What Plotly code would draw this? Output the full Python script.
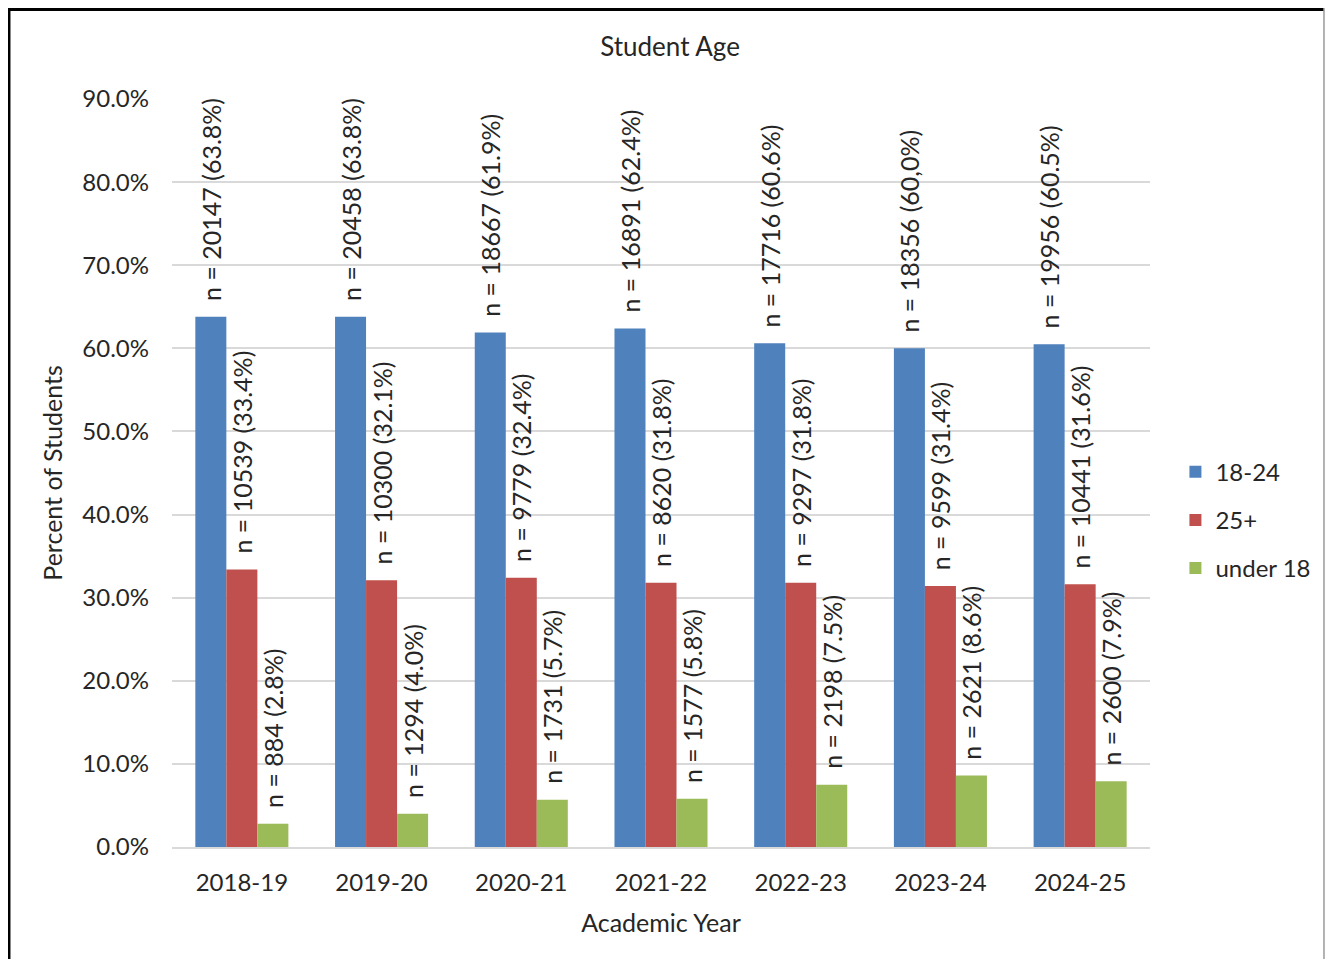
import plotly.graph_objects as go

years = ["2018-19", "2019-20", "2020-21", "2021-22", "2022-23", "2023-24", "2024-25"]
series_names = ["18-24", "25+", "under 18"]

pct_18_24 = [63.8, 63.8, 61.9, 62.4, 60.6, 60.0, 60.5]
pct_25_plus = [33.4, 32.1, 32.4, 31.8, 31.8, 31.4, 31.6]
pct_under_18 = [2.8, 4.0, 5.7, 5.8, 7.5, 8.6, 7.9]

n_18_24 = [20147, 20458, 18667, 16891, 17716, 18356, 19956]
n_25_plus = [10539, 10300, 9779, 8620, 9297, 9599, 10441]
n_under_18 = [884, 1294, 1731, 1577, 2198, 2621, 2600]

pct_text_18_24 = ["63.8%", "63.8%", "61.9%", "62.4%", "60.6%", "60,0%", "60.5%"]
pct_text_25_plus = ["33.4%", "32.1%", "32.4%", "31.8%", "31.8%", "31.4%", "31.6%"]
pct_text_under_18 = ["2.8%", "4.0%", "5.7%", "5.8%", "7.5%", "8.6%", "7.9%"]

colors = ["#4F81BD", "#C0504D", "#9BBB59"]

FONT = "Lato"
TXT = "#262626"

fig = go.Figure()
for name, vals, ns, pts, col in zip(
    series_names,
    [pct_18_24, pct_25_plus, pct_under_18],
    [n_18_24, n_25_plus, n_under_18],
    [pct_text_18_24, pct_text_25_plus, pct_text_under_18],
    colors,
):
    fig.add_trace(go.Bar(
        x=years, y=vals, name=name, legendgroup=name,
        marker=dict(color=col, line=dict(width=0)),
        text=[f"\u00a0\u00a0n = {n} ({p})" for n, p in zip(ns, pts)],
        textposition="outside", textangle=-90,
        constraintext="none", cliponaxis=False,
        textfont=dict(family=FONT, size=25, color=TXT),
        hoverinfo="x+y+name",
    ))

fig.update_layout(
    width=1317, height=951,
    margin=dict(l=164, r=175, t=91, b=112, autoexpand=False),
    paper_bgcolor="white", plot_bgcolor="white",
    barmode="group", bargap=0.334, bargroupgap=0,
    font=dict(family=FONT, size=24, color=TXT),
    title=dict(text="Student Age", x=0.5027, xanchor="center", y=0.959, yanchor="middle",
               font=dict(family=FONT, size=26, color=TXT)),
    legend=dict(x=1.026, xanchor="left", y=0.437, yanchor="middle",
                font=dict(family=FONT, size=24, color=TXT),
                traceorder="grouped", tracegroupgap=14,
                bgcolor="rgba(0,0,0,0)"),
    showlegend=True,
)
fig.update_yaxes(
    range=[0, 90], dtick=10, tickformat=".1f", ticksuffix="%",
    showgrid=True, gridcolor="#D9D9D9", gridwidth=2,
    zeroline=False, showline=False, ticks="", ticklabelstandoff=22,
    tickfont=dict(family=FONT, size=24, color=TXT),
    title=dict(text="Percent of Students", standoff=12,
               font=dict(family=FONT, size=25, color=TXT)),
)
fig.update_xaxes(
    showline=True, linecolor="#D9D9D9", linewidth=2,
    ticks="", showgrid=False, ticklabelstandoff=13,
    tickfont=dict(family=FONT, size=24, color=TXT),
    title=dict(text="Academic Year", standoff=20,
               font=dict(family=FONT, size=25, color=TXT)),
)
# frame around the chart: black left/top, thin grey right
fig.add_shape(type="line", xref="paper", yref="paper",
              x0=-0.1667, x1=-0.1667, y0=-0.16, y1=1.1217,
              line=dict(color="#000000", width=3), layer="above")
fig.add_shape(type="line", xref="paper", yref="paper",
              x0=-0.1677, x1=1.1779, y0=1.1197, y1=1.1197,
              line=dict(color="#000000", width=3), layer="above")
fig.add_shape(type="line", xref="paper", yref="paper",
              x0=1.1779, x1=1.1779, y0=-0.16, y1=1.1217,
              line=dict(color="#9A9A9A", width=1.5), layer="above")

fig.write_html("out.html")
